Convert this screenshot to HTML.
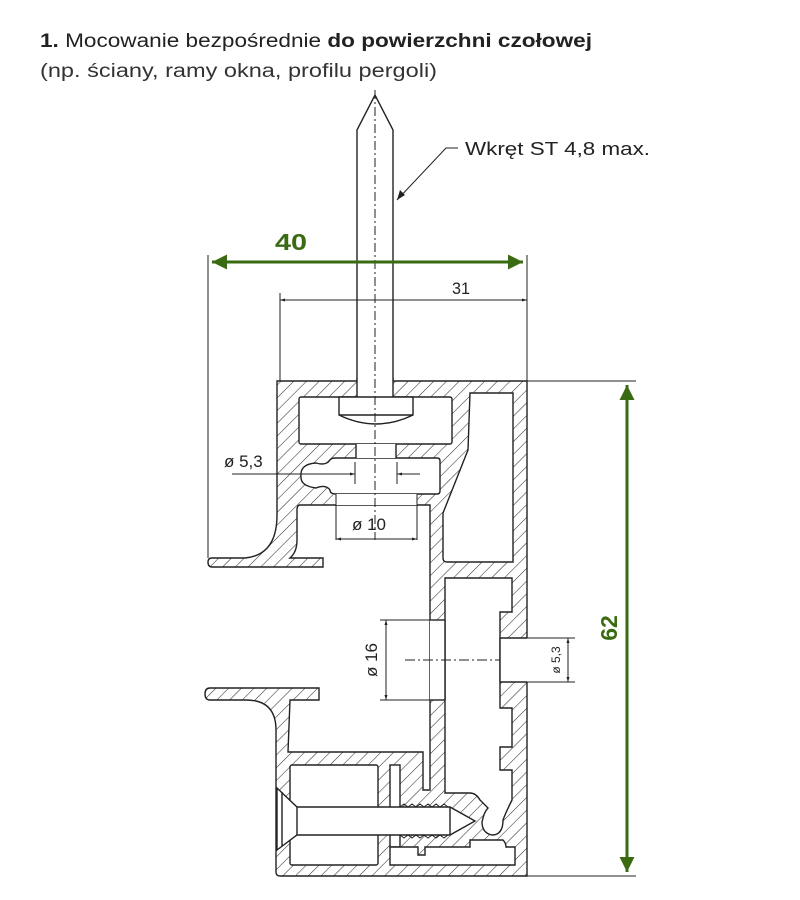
<!DOCTYPE html>
<html><head><meta charset="utf-8"><style>
html,body{margin:0;padding:0;background:#fff;}
svg{display:block;}
</style></head><body>
<svg width="800" height="900" viewBox="0 0 800 900" xmlns="http://www.w3.org/2000/svg" font-family="Liberation Sans, sans-serif">
<defs>
<pattern id="h" patternUnits="userSpaceOnUse" width="9" height="9" patternTransform="rotate(45)">
<line x1="0" y1="0" x2="0" y2="9" stroke="#333" stroke-width="1.1"/>
</pattern>
<marker id="ga" viewBox="0 0 10 10" refX="10" refY="5" markerWidth="5" markerHeight="5" orient="auto-start-reverse"><path d="M0,0 L10,5 L0,10z" fill="#3a6b12"/></marker>
<marker id="ka" viewBox="0 0 10 10" refX="10" refY="5" markerWidth="7" markerHeight="5" orient="auto-start-reverse"><path d="M0,2 L10,5 L0,8z" fill="#222"/></marker>
</defs>

<text x="40" y="47" font-size="19" fill="#222" textLength="552" lengthAdjust="spacingAndGlyphs"><tspan font-weight="bold">1.</tspan> Mocowanie bezpośrednie <tspan font-weight="bold">do powierzchni czołowej</tspan></text>
<text x="40" y="77" font-size="19" fill="#333" textLength="397" lengthAdjust="spacingAndGlyphs">(np. ściany, ramy okna, profilu pergoli)</text>

<g stroke="#222" stroke-width="1.4" fill="none">
<path fill="url(#h)" d="M277,381 L527,381 L527,876 L280,876 Q276,876 276,872 L276,730 Q276,700 246,700 L210,700 Q205,700 205,694 Q205,688 210,688 L319,688 L319,700 L290,700 L288,752 L423,752 L423,790 L430,790 L430,505 L300,505 Q297,505 297,510 L297,540 Q297,552 290,558 L323,558 L323,567 L212,567 Q208,567 208,562 Q208,558 212,558 L245,558 Q277,555 277,515 Z"/>
<g fill="#fff">
<rect x="299" y="397" width="153" height="47" rx="2"/>
<path d="M336,458 L437,458 Q440,458 440,461 L440,491 Q440,494 437,494 L336,494 Q330,494 330,490 Q326,484 316,488 Q300,486 301,476 Q300,464 316,463 Q326,466 330,460 Q331,458 336,458 Z"/>
<path d="M470,393 L513,393 L513,562 L447,562 Q443,562 443,558 L443,513 L468,450 Z"/>
<path d="M445,578 L512,578 L512,612 L500,612 L500,708 L512,708 L512,747 L500,747 L500,770 L512,770 L512,800 Q506,812 503,820 Q503,835 492,835 Q482,833 482,822 Q484,812 488,808 L480,800 Q476,793 470,793 L445,793 Z"/>
<rect x="290" y="765" width="88" height="100" rx="2"/>
<rect x="390" y="765" width="10" height="82"/>
<path d="M390,847 L418,847 L418,855 L425,855 L425,847 L470,847 L470,840 L503,840 Q506,843 506,847 L515,847 L515,865 L390,865 Z"/>
<rect x="430" y="620" width="15" height="80" stroke="none"/>
<rect x="500" y="638" width="28" height="44" stroke="none"/>
</g>
<line x1="430" y1="620" x2="445" y2="620"/><line x1="430" y1="700" x2="445" y2="700"/>
<line x1="445" y1="620" x2="445" y2="700"/>
<line x1="500" y1="638" x2="527" y2="638"/><line x1="500" y1="682" x2="527" y2="682"/>
<line x1="500" y1="638" x2="500" y2="682"/>

<path fill="#fff" d="M357,381 L357,130 L375,95 L393,130 L393,381"/>
<rect x="357" y="378" width="36" height="19" fill="#fff" stroke="none"/>
<line x1="357" y1="378" x2="357" y2="397"/><line x1="393" y1="378" x2="393" y2="397"/>
<path fill="#fff" d="M339,397 L413,397 L413,415 Q376,433 339,415 Z"/>
<line x1="339" y1="415" x2="413" y2="415"/>
<rect x="356" y="444" width="40" height="14" fill="#fff" stroke="none"/>
<line x1="356" y1="444" x2="356" y2="458"/><line x1="396" y1="444" x2="396" y2="458"/>
<rect x="336" y="494" width="81" height="11" fill="#fff" stroke="none"/>
<line x1="336" y1="494" x2="336" y2="540" stroke-width="1"/><line x1="417" y1="494" x2="417" y2="540" stroke-width="1"/>
<line x1="375" y1="90" x2="375" y2="540" stroke-dasharray="9,3,2,3" stroke-width="1"/>

<path fill="#fff" d="M277,788 L297,807 L450,807 L475,821 L450,835 L297,835 L277,850 Z"/>
<line x1="282" y1="792" x2="282" y2="846"/>
<line x1="297" y1="807" x2="297" y2="835"/>
<line x1="450" y1="807" x2="450" y2="835"/>
<path d="M400,807 l4,-3 l4,3 l4,-3 l4,3 l4,-3 l4,3 l4,-3 l4,3 l4,-3 l4,3 l4,-3 l4,3" stroke-width="1"/>
<path d="M400,835 l4,3 l4,-3 l4,3 l4,-3 l4,3 l4,-3 l4,3 l4,-3 l4,3 l4,-3 l4,3 l4,-3" stroke-width="1"/>
</g>

<g stroke="#222" stroke-width="1" fill="none">
<line x1="208" y1="255" x2="208" y2="558"/>
<line x1="527" y1="255" x2="527" y2="381"/>
<line x1="280" y1="293" x2="280" y2="381"/>
<line x1="280" y1="300" x2="527" y2="300" marker-start="url(#ka)" marker-end="url(#ka)"/>
<line x1="527" y1="381" x2="636" y2="381"/>
<line x1="527" y1="876" x2="636" y2="876"/>
<line x1="232" y1="474" x2="355" y2="474" marker-end="url(#ka)"/>
<line x1="420" y1="474" x2="397" y2="474" marker-end="url(#ka)"/>
<line x1="355" y1="462" x2="355" y2="484"/><line x1="397" y1="462" x2="397" y2="484"/>
<line x1="336" y1="539" x2="417" y2="539" marker-start="url(#ka)" marker-end="url(#ka)"/>
<line x1="380" y1="620" x2="430" y2="620"/><line x1="380" y1="700" x2="430" y2="700"/>
<line x1="386" y1="620" x2="386" y2="700" marker-start="url(#ka)" marker-end="url(#ka)"/>
<line x1="405" y1="660" x2="500" y2="660" stroke-dasharray="10,3,2,3"/>
<line x1="527" y1="638" x2="575" y2="638"/><line x1="527" y1="682" x2="575" y2="682"/>
<line x1="568" y1="638" x2="568" y2="682" marker-start="url(#ka)" marker-end="url(#ka)"/>
<polyline points="458,148 446,148 397,200"/>
</g>
<path d="M397,200 l3,-10 l5,5 z" fill="#222"/>

<line x1="212" y1="262" x2="523" y2="262" stroke="#3a6b12" stroke-width="3" marker-start="url(#ga)" marker-end="url(#ga)"/>
<line x1="627" y1="385" x2="627" y2="872" stroke="#3a6b12" stroke-width="3" marker-start="url(#ga)" marker-end="url(#ga)"/>

<text x="275" y="250" font-size="23" fill="#3a6b12" font-weight="bold" textLength="32" lengthAdjust="spacingAndGlyphs">40</text>
<text x="452" y="294" font-size="17" fill="#222" textLength="18" lengthAdjust="spacingAndGlyphs">31</text>
<text transform="translate(617,628) rotate(-90)" font-size="23" fill="#3a6b12" font-weight="bold" text-anchor="middle">62</text>
<text x="224" y="467" font-size="17" fill="#222">ø 5,3</text>
<text x="352" y="530" font-size="17" fill="#222">ø 10</text>
<text transform="translate(377,660) rotate(-90)" font-size="17" fill="#222" text-anchor="middle">ø 16</text>
<text transform="translate(560,660) rotate(-90)" font-size="12" fill="#222" text-anchor="middle">ø 5,3</text>
<text x="465" y="155" font-size="18" fill="#222" textLength="185" lengthAdjust="spacingAndGlyphs">Wkręt ST 4,8 max.</text>
</svg>
</body></html>
